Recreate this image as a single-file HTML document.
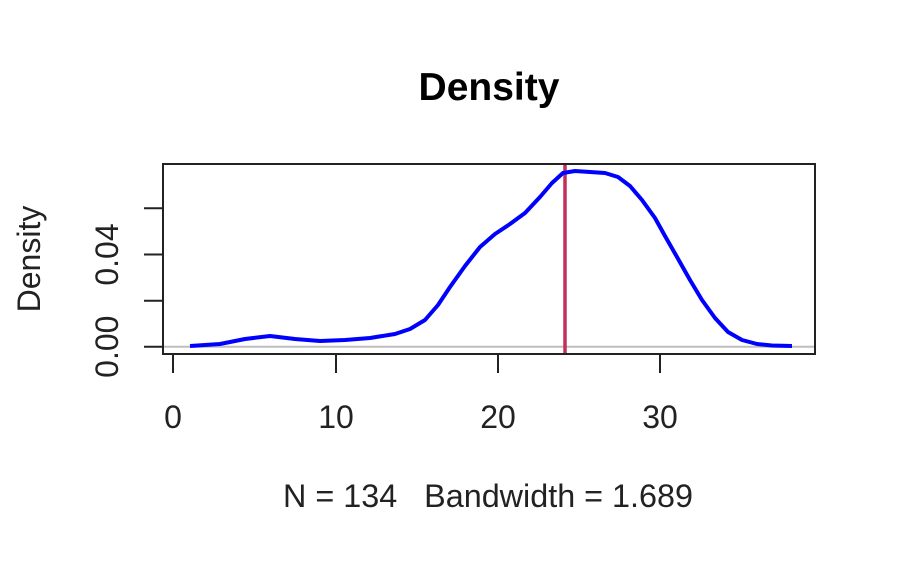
<!DOCTYPE html>
<html><head><style>html,body{margin:0;padding:0;background:#fff;}</style></head>
<body>
<svg width="900" height="559" xmlns="http://www.w3.org/2000/svg" font-family="Liberation Sans, Arial, sans-serif">
<rect width="900" height="559" fill="#fff"/>
<text x="489" y="100" font-size="39" font-weight="bold" text-anchor="middle">Density</text>
<line x1="163" y1="346.7" x2="815" y2="346.7" stroke="#bebebe" stroke-width="2"/>
<line x1="565" y1="164" x2="565" y2="354" stroke="#c0305a" stroke-width="3.5"/>
<polyline fill="none" stroke="#0000ff" stroke-width="4" stroke-linejoin="round" points="190,346 220,344 245,339 270,336 295,339 320,341 345,340 370,338 395,334 410,329 425,320 438,305 450,287 465,266 480,247 495,234 510,224 525,213 540,197 552,183 563,173 575,171 590,172 605,173 618,177 630,186 642,200 655,218 665,236 677,257 690,280 702,300 715,318 728,332 742,340 757,344 772,345.5 792,346"/>
<rect x="163" y="164" width="652" height="190" fill="none" stroke="#222" stroke-width="2"/>
<g stroke="#222" stroke-width="2">
<line x1="173" y1="354" x2="173" y2="373"/>
<line x1="336" y1="354" x2="336" y2="373"/>
<line x1="498" y1="354" x2="498" y2="373"/>
<line x1="660" y1="354" x2="660" y2="373"/>
<line x1="144" y1="346.7" x2="163" y2="346.7"/>
<line x1="144" y1="300.7" x2="163" y2="300.7"/>
<line x1="144" y1="254.5" x2="163" y2="254.5"/>
<line x1="144" y1="208.3" x2="163" y2="208.3"/>
</g>
<g font-size="32" text-anchor="middle" fill="#222">
<text x="173" y="428">0</text>
<text x="336" y="428">10</text>
<text x="498" y="428">20</text>
<text x="660" y="428">30</text>
<text transform="translate(118,346.7) rotate(-90)">0.00</text>
<text transform="translate(118,254.5) rotate(-90)">0.04</text>
<text transform="translate(40,259) rotate(-90)">Density</text>
<text x="488" y="507" textLength="410" lengthAdjust="spacingAndGlyphs">N = 134&#160;&#160;&#160;Bandwidth = 1.689</text>
</g>
</svg>
</body></html>
